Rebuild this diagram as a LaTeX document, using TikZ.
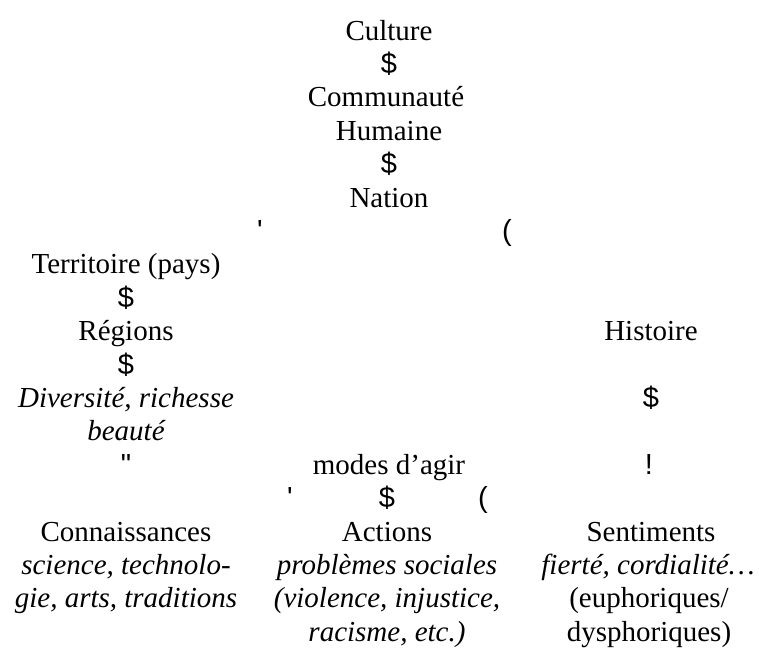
\documentclass[tikz,border=0pt]{standalone}
\usepackage{fontspec}
\setmainfont{Liberation Serif}
\newfontfamily\glyphfont{Liberation Sans}
\begin{document}
\begin{tikzpicture}[x=1pt,y=-1pt,
  txt/.style={anchor=base,inner sep=0pt,font=\fontsize{29}{33}\selectfont},
  itx/.style={txt,font=\fontsize{29}{33}\selectfont\itshape},
  sym/.style={anchor=base,inner sep=0pt,font=\fontsize{29}{33}\glyphfont}]
\useasboundingbox (0,0) rectangle (759,648);
% rows sit on baselines 40 + 33.4 n
% central chain
\node[txt] (culture) at (389,40) {Culture};
\node[sym] (s1) at (389,73.4) {\$};
\node[txt] (commu) at (386,106.8) {Communauté};
\node[txt] (humaine) at (389,140.2) {Humaine};
\node[sym] (s2) at (389,173.6) {\$};
\node[txt] (nation) at (389,207) {Nation};
\node[sym] (a1) at (260,240.4) {'};
\node[sym] (a2) at (507,240.4) {(};
% left branch
\node[txt] (terr) at (126,273.8) {Territoire (pays)};
\node[sym] (s3) at (126,307.2) {\$};
\node[txt] (regions) at (126,340.6) {Régions};
\node[sym] (s4) at (126,374) {\$};
\node[itx] (divers) at (126,407.4) {Diversité, richesse};
\node[itx] (beaute) at (126,440.8) {beauté};
\node[sym] (a3) at (126,474.2) {"};
% right branch
\node[txt] (histoire) at (651,340.6) {Histoire};
\node[sym] (s5) at (651,407.4) {\$};
\node[sym] (a4) at (649,474.2) {!};
% modes d'agir
\node[txt] (modes) at (389,474.2) {modes d’agir};
\node[sym] (a5) at (290,507.6) {'};
\node[sym] (s6) at (387,507.6) {\$};
\node[sym] (a6) at (483,507.6) {(};
% bottom row
\node[txt] (conn) at (126,541) {Connaissances};
\node[itx] (conn1) at (126,574.4) {science, technolo-};
\node[itx] (conn2) at (126,607.8) {gie, arts, traditions};
\node[txt] (actions) at (387,541) {Actions};
\node[itx] (act1) at (387,574.4) {problèmes sociales};
\node[itx] (act2) at (387,607.8) {(violence, injustice,};
\node[itx] (act3) at (387,641.2) {racisme, etc.)};
\node[txt] (sent) at (651,541) {Sentiments};
\node[itx] (sent1) at (648,574.4) {fierté, cordialité\dots};
\node[txt] (sent2) at (649,607.8) {(euphoriques/};
\node[txt] (sent3) at (649,641.2) {dysphoriques)};
\end{tikzpicture}
\end{document}
